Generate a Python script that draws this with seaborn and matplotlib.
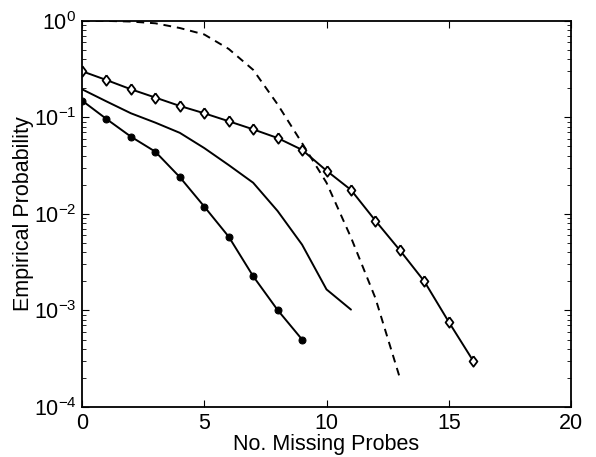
import numpy as np
import pandas as pd
import seaborn as sns
import matplotlib
matplotlib.use("Agg")
import matplotlib.pyplot as plt

# values
x_diamond = list(range(0, 17))
p_diamond = [0.30, 0.243, 0.195, 0.16, 0.131, 0.11, 0.091, 0.075, 0.061,
             0.046, 0.028, 0.0177, 0.0085, 0.0042, 0.0020, 0.00076, 0.00030]

x_dot = list(range(0, 10))
p_dot = [0.149, 0.096, 0.063, 0.044, 0.024, 0.0119, 0.0058, 0.00226, 0.00101, 0.0005]

x_solid = list(range(0, 12))
p_solid = [0.195, 0.146, 0.11, 0.088, 0.069, 0.048, 0.032, 0.021, 0.0107,
           0.0048, 0.00165, 0.00102]

x_dash = list(range(0, 14))
p_dash = [1.0, 0.995, 0.98, 0.94, 0.84, 0.72, 0.51, 0.31, 0.136, 0.054,
          0.021, 0.0057, 0.00134, 0.0002]

sns.set_style("ticks", {"xtick.direction": "in", "ytick.direction": "in"})
plt.rcParams["font.family"] = ["Liberation Sans", "DejaVu Sans"]
plt.rcParams["mathtext.default"] = "regular"
plt.rcParams["axes.labelcolor"] = "black"
plt.rcParams["text.color"] = "black"

fig = plt.figure(figsize=(5.96, 4.57), dpi=100)
ax = fig.add_axes([0.1376, 0.1094, 0.8205, 0.8453])

# matlab-ish diamond, a bit narrower than tall
diamond = [(0, 1), (0.75, 0), (0, -1), (-0.75, 0), (0, 1)]

lw = 1.4
sns.lineplot(x=x_dash, y=p_dash, ax=ax, color="black", linewidth=lw,
             linestyle=(0, (4, 3)))
sns.lineplot(x=x_solid, y=p_solid, ax=ax, color="black", linewidth=lw)
sns.lineplot(x=x_dot, y=p_dot, ax=ax, color="black", linewidth=lw,
             marker="o", markersize=5, markerfacecolor="black",
             markeredgecolor="black")
sns.lineplot(x=x_diamond, y=p_diamond, ax=ax, color="black", linewidth=lw,
             marker=diamond, markersize=7.5, markerfacecolor="white",
             markeredgecolor="black", markeredgewidth=1.3)

ax.set_yscale("log")
ax.set_xlim(0, 20)
ax.set_ylim(1e-4, 1)
ax.set_xticks([0, 5, 10, 15, 20])
ax.set_yticks([1e-4, 1e-3, 1e-2, 1e-1, 1])

for s in ax.spines.values():
    s.set_visible(True)
    s.set_linewidth(1.3)
    s.set_color("black")

ax.tick_params(which="both", direction="in", top=True, right=True,
               labelsize=15.5, colors="black")
ax.tick_params(which="major", length=5, width=0.8, pad=4)
ax.tick_params(which="minor", length=3, width=0.6)
ax.tick_params(axis="x", which="minor", bottom=False, top=False)

ax.set_xlabel("No. Missing Probes", fontsize=15.5, labelpad=0)
ax.set_ylabel("Empirical Probability", fontsize=15.5, labelpad=0)

fig.savefig("out.png", dpi=100, facecolor="white")
